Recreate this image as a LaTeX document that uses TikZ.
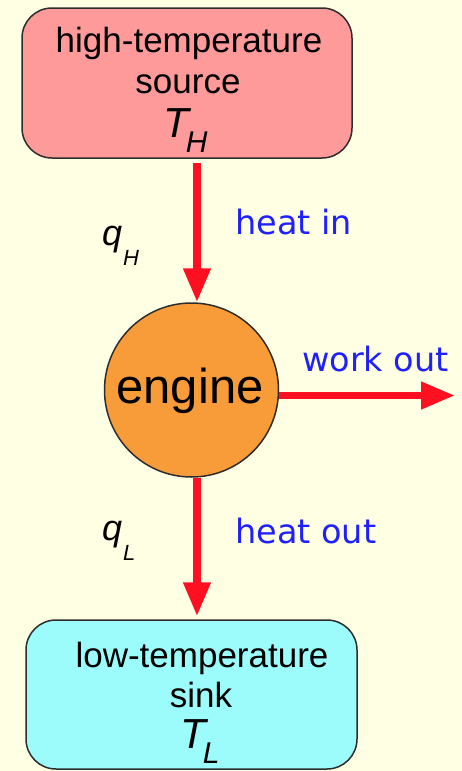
\documentclass[tikz,border=0pt]{standalone}
\usepackage{fontspec}
\setmainfont{Liberation Sans}
\newfontfamily\bluefont{DejaVu Sans}
\usetikzlibrary{arrows.meta}
\definecolor{bg}{RGB}{255,255,228}
\definecolor{hotfill}{RGB}{255,154,154}
\definecolor{coldfill}{RGB}{156,252,252}
\definecolor{engfill}{RGB}{248,156,58}
\definecolor{arrred}{RGB}{255,16,32}
\definecolor{lblblue}{RGB}{32,32,255}
\definecolor{edge}{RGB}{45,45,45}
\tikzset{
  resbox/.style={draw=edge, line width=1.5pt, rounded corners=30pt, inner sep=0pt},
  boxtxt/.style={inner sep=0pt, anchor=base, font=\fontsize{35}{35}\selectfont},
  bluetxt/.style={inner sep=0pt, anchor=base west, text=lblblue, font=\bluefont\fontsize{33.5}{33.5}\selectfont},
  qtxt/.style={inner sep=0pt, anchor=base west},
  flow/.style={draw=arrred, line width=7.5pt, -{Triangle[length=34pt,width=26pt]}}
}
\newcommand{\tsym}[1]{{\fontsize{42}{42}\selectfont\itshape T}\kern-3pt\raisebox{-15pt}{\fontsize{30}{30}\selectfont\itshape #1}}
\newcommand{\qsym}[1]{{\fontsize{36}{36}\selectfont\itshape q}\kern1pt\raisebox{-20pt}{\fontsize{22}{22}\selectfont\itshape #1}}
\begin{document}
\begin{tikzpicture}[x=1pt,y=-1pt]
\fill[bg] (0,0) rectangle (462,771);
\useasboundingbox (0,0) rectangle (462,771);
% source box
\node[resbox, fill=hotfill, minimum width=330pt, minimum height=150pt] (src) at (187,83) {};
\node[boxtxt] (srct1) at (189,52) {high-temperature};
\node[boxtxt] (srct2) at (188,93) {source};
\node[qtxt] (th) at (163,137) {\tsym{H}};
% engine
\node[circle, draw=edge, line width=1.5pt, fill=engfill, minimum size=174pt, inner sep=0pt] (eng) at (191.5,390) {};
\node[inner sep=0pt, anchor=base, font=\fontsize{49}{49}\selectfont] (engt) at (190,403) {engine};
% sink box
\node[resbox, fill=coldfill, minimum width=331pt, minimum height=149pt] (snk) at (191.5,694.5) {};
\node[boxtxt] (snkt1) at (202,667) {low-temperature};
\node[boxtxt] (snkt2) at (201,707) {sink};
\node[qtxt] (tl) at (180,748) {\tsym{L}};
% connectors
\coordinate (ax) at (197,0);
\coordinate (wend) at (455,395.5);
\draw[flow] ([yshift=-4pt]src.south -| ax) -- (eng.north -| ax);
\draw[flow] (eng.south -| ax) -- ([yshift=3pt]snk.north -| ax);
\draw[flow] (eng.east |- wend) -- (wend);
% labels
\node[bluetxt] (hin) at (235,234) {heat in};
\node[bluetxt] (wout) at (302,371) {work out};
\node[bluetxt] (hout) at (235,543) {heat out};
\node[qtxt] (qh) at (102,245) {\qsym{H}};
\node[qtxt] (ql) at (102,540) {\qsym{L}};
\end{tikzpicture}
\end{document}
